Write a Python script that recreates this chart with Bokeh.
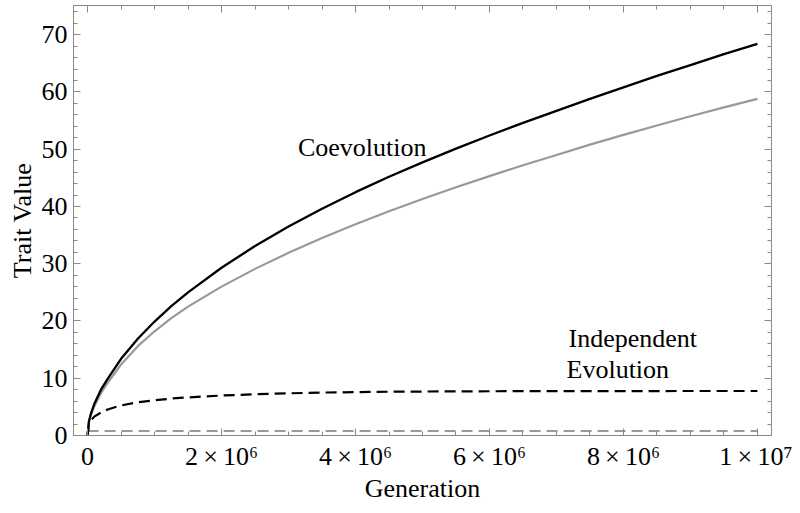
from bokeh.plotting import figure
from bokeh.models import (ColumnDataSource, Range1d, LinearAxis, FixedTicker, Label)
from bokeh.embed import file_html
from bokeh.resources import INLINE

# ---- data ----
generation = [0, 0.02e6, 0.05e6, 0.1e6, 0.2e6, 0.3e6, 0.5e6, 0.75e6, 1.0e6, 1.25e6,
              1.5e6, 2.0e6, 2.5e6, 3.0e6, 3.5e6, 4.0e6, 4.5e6, 5.0e6, 5.5e6, 6.0e6,
              6.5e6, 7.0e6, 7.5e6, 8.0e6, 8.5e6, 9.0e6, 9.5e6, 10.0e6]
coevolution_black = [0, 2.5, 3.8, 5.5, 8.0, 9.9, 13.4, 16.9, 19.9, 22.6,
                     25.0, 29.3, 33.1, 36.5, 39.6, 42.5, 45.2, 47.7, 50.1, 52.4,
                     54.6, 56.7, 58.8, 60.8, 62.8, 64.7, 66.6, 68.4]
coevolution_gray = [0, 2.3, 3.6, 5.1, 7.4, 9.2, 12.4, 15.6, 18.2, 20.5,
                    22.5, 26.0, 29.1, 31.9, 34.5, 36.9, 39.15, 41.3, 43.35, 45.3,
                    47.2, 49.0, 50.8, 52.5, 54.15, 55.75, 57.3, 58.8]
independent_black = [0, 1.8, 2.6, 3.3, 4.0, 4.55, 5.25, 5.8, 6.15, 6.45,
                     6.65, 6.98, 7.2, 7.37, 7.5, 7.58, 7.64, 7.68, 7.71, 7.73,
                     7.74, 7.75, 7.755, 7.76, 7.765, 7.77, 7.77, 7.77]
independent_gray = [0.8] * len(generation)

x_ticks = [0, 2e6, 4e6, 6e6, 8e6, 10e6]
x_tick_labels = ["0", "2\u2009×\u200910⁶", "4\u2009×\u200910⁶", "6\u2009×\u200910⁶",
                 "8\u2009×\u200910⁶", "1\u2009×\u200910⁷"]
x_minor = [i * 0.5e6 for i in range(0, 21)]
y_ticks = [0, 10, 20, 30, 40, 50, 60, 70]
y_minor = list(range(0, 76, 2))

FONT = "Liberation Serif"
FRAME = "#8a8a8a"

src = ColumnDataSource(dict(g=generation, cb=coevolution_black, cg=coevolution_gray,
                            ib=independent_black, ig=independent_gray))

p = figure(width=792, height=505, output_backend="svg", toolbar_location=None,
           x_range=Range1d(-0.21e6, 10.21e6), y_range=Range1d(0, 75.1),
           x_axis_label="Generation", y_axis_label="Trait Value",
           min_border_left=73, min_border_right=21, min_border_top=5,
           min_border_bottom=69)
p.background_fill_color = "white"
p.border_fill_color = "white"
p.xgrid.visible = False
p.ygrid.visible = False
p.outline_line_color = FRAME
p.outline_line_width = 1

xt = FixedTicker(ticks=x_ticks, minor_ticks=x_minor)
yt = FixedTicker(ticks=y_ticks, minor_ticks=y_minor)

def style(ax, labels=True):
    ax.axis_line_color = FRAME
    ax.major_tick_line_color = FRAME
    ax.minor_tick_line_color = FRAME
    ax.major_tick_in = 7
    ax.major_tick_out = 0
    ax.minor_tick_in = 4
    ax.minor_tick_out = 0
    ax.major_label_text_font = FONT
    ax.major_label_text_font_size = "26px"
    ax.major_label_text_color = "black"
    ax.axis_label_text_font = FONT
    ax.axis_label_text_font_size = "26px"
    ax.axis_label_text_font_style = "normal"
    ax.axis_label_text_color = "black"
    if not labels:
        ax.major_label_text_font_size = "1px"
        ax.major_label_text_color = None
        ax.major_label_standoff = 0
        ax.axis_label_standoff = 0

p.xaxis.ticker = xt
p.yaxis.ticker = yt
p.xaxis.major_label_overrides = {int(t): s for t, s in zip(x_ticks, x_tick_labels)}
style(p.xaxis[0])
style(p.yaxis[0])
p.xaxis.major_label_standoff = 6
p.xaxis.axis_label_standoff = 0
p.yaxis.major_label_standoff = 6
p.yaxis.axis_label_standoff = 2

top = LinearAxis(ticker=xt)
style(top, labels=False)
right = LinearAxis(ticker=yt)
style(right, labels=False)
p.add_layout(top, "above")
p.add_layout(right, "right")

p.line("g", "ig", source=src, line_color="#999999", line_width=2, line_dash="11 6")
p.line("g", "ib", source=src, line_color="black", line_width=2.2, line_dash="11 6")
p.line("g", "cg", source=src, line_color="#999999", line_width=2.2)
p.line("g", "cb", source=src, line_color="black", line_width=2.3)

for txt, x, y in [("Coevolution", 3.14e6, 50.3),
                  ("Independent", 7.18e6, 16.9),
                  ("Evolution", 7.15e6, 11.6)]:
    p.add_layout(Label(x=x, y=y, text=txt, text_font=FONT, text_font_size="26px",
                       text_color="black", text_baseline="alphabetic", text_align="left"))

open("out.html", "w").write(file_html(p, INLINE))
